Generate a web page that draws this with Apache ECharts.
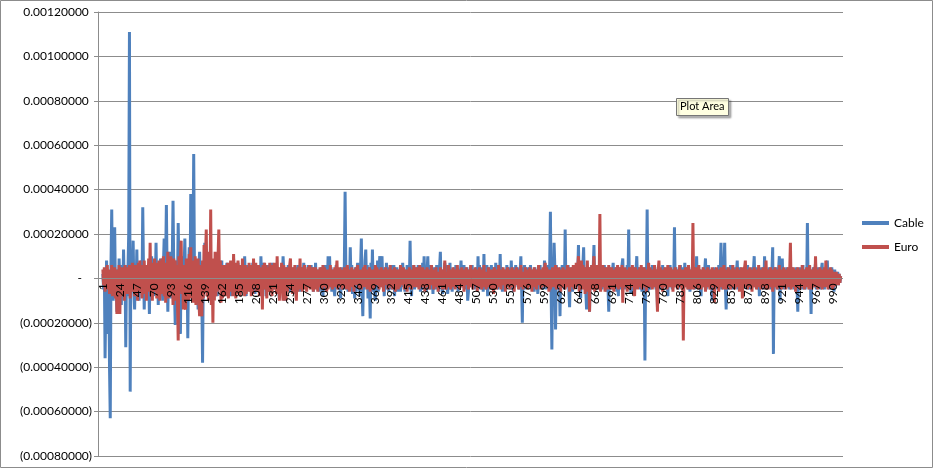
<!DOCTYPE html>
<html>
<head>
<meta charset="utf-8">
<script src="https://cdn.jsdelivr.net/npm/echarts@6/dist/echarts.min.js"></script>
<style>
  html, body { margin: 0; padding: 0; background: #fff; }
  #chart { width: 935px; height: 470px; }
</style>
</head>
<body>
<div id="chart"></div>
<script>
// values are in units of 0.00001 (one row = 25 points)
const cableValues = [
  2,-5,4,-36,-8,8,-12,-25,3,-40,-63,6,31,-4,-10,5,23,-6,2,-15,4,-7,9,-3,6,
  -12,3,-5,13,-4,6,-31,5,-8,4,20,111,-51,10,-6,3,17,-5,-14,6,-3,13,-7,4,-10,
  5,-4,8,-6,32,4,-14,3,-5,6,-3,-8,4,-16,5,-4,10,-6,3,-8,6,-2,16,-5,4,
  -12,5,-3,9,-6,4,-10,6,18,-4,7,33,2,-15,6,-4,12,-3,-9,8,35,4,-6,-21,5,
  8,-4,25,3,-8,-25,6,10,-5,-12,4,18,-3,-8,5,-27,3,14,-6,38,2,-10,8,56,4,
  -5,6,8,-4,-14,5,12,-3,4,-10,-38,3,-6,16,2,-4,-6,5,-3,9,-5,4,-12,3,-6,
  5,-3,7,-6,2,-8,4,6,-5,3,-4,8,-7,2,5,-3,-6,4,7,-2,-5,3,6,-8,4,
  2,-4,9,-3,5,-6,3,-2,7,-5,4,-7,2,6,-4,3,-5,10,-2,-8,5,-3,6,-4,3,
  -6,4,-2,7,-5,3,-7,5,-3,2,6,-4,3,-6,10,-2,4,-5,7,-3,2,-8,5,-4,6,
  -3,4,-6,3,7,-2,-5,4,-3,6,-4,2,5,-3,-9,4,-2,6,-5,10,3,-10,4,-3,5,
  -4,6,-3,2,-6,5,-2,4,-7,3,5,-4,2,-5,6,-3,4,-6,3,-2,5,-4,7,-3,2,
  -5,4,-2,6,-3,5,-4,6,-2,5,-6,3,-4,7,-3,2,-5,4,-6,3,-2,5,-4,-8,4,
  -3,6,-5,3,-2,10,-4,10,-3,5,-6,2,4,-5,-8,3,6,-4,2,-5,4,-3,-9,5,-2,
  3,-5,6,39,4,-5,3,-6,5,-4,14,-3,6,-7,4,-3,-9,5,-6,3,7,-4,6,-8,5,
  18,-6,-17,4,-5,8,13,-3,6,-9,5,-4,-18,7,-6,13,-4,6,-7,-10,5,-3,8,-6,4,
  10,-3,6,10,-4,5,-8,3,-5,7,-4,4,-6,5,-3,6,-5,3,-4,6,-8,4,-2,5,-6,
  4,-5,3,-6,5,-3,7,-4,2,-6,4,-3,6,-5,3,-2,17,-4,-8,5,-3,6,-5,4,-3,
  5,-4,6,-3,4,-6,3,-5,7,-2,10,-4,5,-6,3,10,-3,4,-5,6,-2,3,-7,5,-4,
  3,-5,6,-4,2,-6,5,12,-3,4,-7,3,-5,7,-4,6,-3,-7,5,-2,7,-5,3,-6,4,
  -3,5,-4,6,-2,4,-6,3,-5,2,8,-4,5,-3,6,-5,3,-4,5,-10,-6,4,-3,5,-4,
  6,-3,4,-5,3,-2,5,-4,10,-3,6,-5,4,-2,5,-6,11,-4,3,-5,6,-8,4,-3,5,
  -4,6,-3,5,-6,3,-4,7,-2,4,-5,6,-3,11,-4,5,-6,3,-2,-5,4,-3,6,-4,5,
  -3,4,-5,8,-2,5,-6,3,-4,6,-3,5,-2,4,-5,3,10,-4,-20,5,-3,6,-5,4,-2,
  5,-4,5,-3,6,-5,3,-2,4,-6,5,-3,4,-2,-7,5,-4,6,-3,4,-5,3,-2,8,4,
  -5,3,-4,6,-3,5,30,-6,-32,4,-3,16,5,-23,6,-4,3,-5,4,-17,5,-3,6,-4,3,
  -5,22,-4,5,-3,6,-5,-13,4,-3,5,-6,3,-4,6,-3,5,-4,2,15,-5,4,-9,5,-3,
  6,14,-4,5,-6,-14,4,-3,5,-15,3,-4,6,-3,5,15,-5,3,-4,6,-3,4,-5,5,-2,
  4,-5,3,-4,6,-3,5,-6,3,-4,-15,5,-3,4,-5,3,7,-4,5,-3,4,-6,3,-8,5,
  -3,4,-5,6,9,-4,3,-5,4,-3,6,-4,22,-5,3,-7,5,-4,3,-6,5,-3,4,10,-4,
  5,-3,4,-5,3,-6,4,-3,5,-37,4,-3,31,-6,5,-4,-5,3,-4,6,-3,5,-4,3,-5,
  4,-13,5,-3,4,-5,3,-4,6,-3,5,-4,3,-5,4,-8,5,-3,6,-4,3,-5,4,-3,23,
  -4,5,-3,4,-5,3,-4,6,-3,5,-4,3,-2,7,-4,5,-3,4,-5,3,-6,4,-3,5,-4,
  3,-5,4,-3,10,-4,5,-3,4,-5,-8,3,-4,5,-3,4,9,-5,3,-4,6,-3,4,-5,3,
  -10,4,-3,5,-4,3,-5,4,-3,6,-4,3,16,-5,4,-3,5,16,-4,-14,5,-3,4,-5,3,
  6,-4,3,-5,4,-3,5,-4,3,8,-5,4,-3,5,-4,3,-6,4,-3,5,-4,3,-5,6,-3,
  4,-5,3,-4,5,-3,4,10,-4,5,-3,4,-5,3,-8,4,-3,5,-4,3,-5,10,-3,4,-5,
  3,-4,5,-3,4,-5,3,14,-34,4,-3,5,-4,3,-5,4,10,-10,5,-3,9,-4,3,-5,4,
  -3,5,5,-4,3,-5,4,-3,5,-4,3,-5,4,-3,5,-4,-15,4,-3,5,-4,3,-5,6,-3,
  4,-5,3,-4,25,-3,4,-5,3,-16,4,-3,5,-4,3,7,-5,4,-3,5,-4,3,-5,4,7,
  -4,3,-5,4,-3,5,8,-4,3,-5,4,-3,5,-4,3,-6,4,-3,3,-2,3,-3,2,-2,1
];

const euroValues = [
  4,-3,5,-6,3,-4,6,-5,2,-7,4,-3,6,-8,3,-5,5,-9,2,-16,4,-10,6,-16,3,
  -8,5,-6,4,-10,6,-5,3,-7,5,-4,6,-9,4,-6,7,-5,3,-8,6,-4,5,-10,7,-5,
  8,-6,5,-9,6,-4,8,-7,5,-10,6,-5,9,-6,16,-8,5,-10,7,-6,9,-5,6,-9,7,
  -6,8,-10,6,-7,9,-5,10,-8,6,-11,7,-6,12,-9,5,-8,10,-7,6,-12,9,-6,8,-10,
  6,-9,-28,10,-6,8,17,-7,5,-14,6,-13,-14,9,-8,7,-10,11,-6,14,-9,7,-11,8,-6,
  10,-12,7,-8,9,-10,-17,6,-15,-17,8,-9,15,-6,10,22,-8,12,-10,9,-7,31,-12,5,-20,
  9,-10,12,-8,7,-6,10,22,-5,8,-11,6,-9,5,-7,6,-8,5,-6,7,-9,4,-5,8,-6,
  7,-8,11,-5,6,-9,7,-4,8,-7,5,-8,6,-6,9,-5,4,-8,6,-7,3,5,-6,7,-5,
  6,-8,5,-7,9,-4,3,7,-6,5,-4,6,-8,4,-6,5,-14,6,-5,7,-4,6,-9,5,-3,
  -6,7,-5,4,-8,6,-5,7,-4,5,-7,10,-6,4,-10,5,-6,7,-5,-10,6,-4,5,-10,4,
  -6,5,-4,6,9,-5,3,-7,5,-4,6,-5,-10,4,-6,5,-3,9,-5,4,-6,5,-4,6,-5,
  4,-6,3,5,-4,6,-5,3,-4,5,-6,4,-3,5,-5,4,-6,3,-4,5,-3,4,-5,6,-4,
  5,-3,4,-6,3,-5,4,-3,6,-4,3,-5,4,-3,5,-4,3,8,-5,4,-3,5,-4,3,-5,
  4,-3,5,-4,2,-5,6,-3,4,-6,3,-2,5,-4,3,-6,4,-2,5,-3,6,-4,2,-5,4,
  -5,3,-2,5,-4,6,-3,2,-5,4,-3,5,-6,3,-2,4,-5,3,-4,6,-3,5,-2,4,-5,
  3,-4,5,-3,2,-6,4,-3,5,-2,4,-5,3,-4,6,-3,2,-5,4,-3,5,-6,3,-2,4,
  -5,3,-4,6,-2,4,-3,5,-5,3,-2,4,-6,3,-4,5,-3,2,-5,4,-3,6,-4,3,-2,
  5,-4,3,-5,6,-3,2,-4,5,-3,4,-6,3,-2,5,-4,3,-5,4,-3,6,-2,3,-5,4,
  -3,5,-4,2,-6,3,-4,5,-3,4,-5,3,-2,8,-4,-5,3,-4,6,-2,4,-5,3,-3,5,
  -4,3,-5,4,-2,6,-3,4,-5,3,-2,5,-4,3,-6,4,-3,5,-2,3,-5,4,-3,6,-4,
  3,-5,4,-2,5,-3,4,-6,3,-4,5,-2,3,-5,4,-3,6,-4,2,-5,3,-4,5,-3,4,
  -5,3,-2,4,-7,5,-3,4,-5,3,-2,6,-4,3,-5,4,-3,5,-2,4,-6,3,-4,5,-3,
  4,-5,3,-2,5,-4,3,-6,4,-3,5,-2,3,-5,4,-3,6,-4,3,-5,2,-4,5,-3,4,
  -5,3,-4,5,-2,4,-6,3,-3,5,-4,3,-5,4,-2,6,-3,4,-5,3,-4,5,-3,4,7,
  -4,5,-3,4,-6,3,-5,4,-3,5,-4,3,-2,6,-5,3,-4,5,-3,4,-6,3,-4,5,-3,
  4,-5,3,-4,6,-3,5,-6,4,-3,5,-4,6,-5,3,-4,7,-3,5,10,-6,4,-5,8,-4,
  6,-5,4,-7,5,-4,8,-6,3,-15,5,-4,6,-5,4,10,-6,5,-4,6,-5,4,-3,29,-6,
  5,-4,6,-3,4,-6,5,-3,4,-5,6,-4,3,-5,5,-3,4,-6,3,-4,5,-3,6,-5,4,
  -3,5,-4,6,-11,4,-3,5,-4,3,-6,4,-3,5,-5,3,-4,6,-3,4,-8,5,-3,4,-5,
  3,-4,5,-3,6,-5,4,-3,5,-4,3,-6,4,-3,7,-4,5,-3,4,-5,3,-4,6,-3,4,
  -5,-15,4,8,-4,5,-3,4,-6,3,-4,5,-3,4,-5,6,-3,4,-4,5,-3,4,-6,3,-4,
  5,-3,4,-5,3,-4,6,-3,4,-5,3,-28,4,-3,5,-4,3,-5,6,-3,4,-5,3,-4,25,
  -5,4,-3,5,-4,3,-5,6,-3,4,-5,3,-4,5,-3,4,-6,3,-4,5,-3,4,-5,3,-4,
  5,-3,4,-11,3,-4,5,-3,4,-6,3,-4,5,-3,4,-5,6,-3,4,-5,3,-4,5,-3,4,
  -5,3,-4,6,-3,4,-5,3,-4,5,-3,4,-6,3,-4,5,-9,4,-3,5,8,-4,3,-5,4,
  -3,5,-4,3,-6,4,-3,5,-4,3,-5,4,-3,6,-4,3,-5,4,-3,5,-4,3,-5,8,-4,
  3,-5,4,-3,5,-4,3,-6,4,-3,5,-4,3,-5,4,-3,6,-4,3,-5,4,-3,5,-4,3,
  -5,4,-3,5,-4,3,16,-5,4,-3,5,-4,3,-6,4,-3,5,-4,3,-5,4,-3,6,-4,3,
  -5,4,-3,5,-4,3,-5,6,-3,4,-5,3,-4,5,-3,10,-4,3,-5,4,-3,5,-4,3,-5,
  4,-3,5,-4,8,-3,4,-5,3,-4,5,-3,4,-5,3,-4,2,-3,3,-2,2,-3,2,-2,1
];

// row numbers along the category axis
const categories = cableValues.map((_, i) => String(i + 1));

const cable = cableValues.map((v) => v / 100000);
const euro = euroValues.map((v) => v / 100000);

const yMin = -0.0008;
const yMax = 0.0012;
const yStep = 0.0002;

const fontFamily = 'Lato, "Liberation Sans", sans-serif';
const gridColor = '#8c8c8c';

const formatTick = (value) => {
  const r = Math.round(value * 100000) / 100000;
  if (r === 0) return '-{h|0)}';
  const s = Math.abs(r).toFixed(8);
  return r < 0 ? '(' + s + ')' : s + '{h|)}';
};

const myChart = echarts.init(document.getElementById('chart'));

const options = {
  animation: false,
  grid: [
    // frame with the value axis and gridlines
    { left: 98, right: 92, top: 12, bottom: 14, outerBoundsMode: 'none' },
    // the data area, points start a little in from the axis
    { left: 102.5, right: 94, top: 12, bottom: 14, outerBoundsMode: 'none' },
  ],
  legend: {
    orient: 'vertical',
    left: 862,
    top: 217,
    padding: 0,
    itemWidth: 27,
    itemHeight: 4,
    itemGap: 12,
    icon: 'rect',
    data: ['Cable', 'Euro'],
    textStyle: { color: '#000', fontSize: 12, fontFamily },
  },
  xAxis: [
    {
      gridIndex: 0,
      type: 'value',
      min: 0,
      max: 1,
      show: false,
    },
    {
      gridIndex: 1,
      type: 'category',
      data: categories,
      boundaryGap: true,
      position: 'bottom',
      offset: 0,
      z: 10,
      axisLine: { onZero: false, lineStyle: { color: gridColor } },
      axisTick: { show: false },
      axisLabel: {
        interval: 22,
        rotate: 90,
        margin: 5,
        color: '#000',
        fontSize: 12,
        fontFamily,
      },
      splitLine: { show: false },
    },
  ],
  yAxis: [
    {
      gridIndex: 0,
      type: 'value',
      min: yMin,
      max: yMax,
      interval: yStep,
      axisLine: { show: true, lineStyle: { color: gridColor } },
      axisTick: { show: true, length: 4, lineStyle: { color: gridColor } },
      axisLabel: {
        margin: 6,
        color: '#000',
        fontSize: 12,
        fontFamily,
        formatter: formatTick,
        rich: { h: { color: 'rgba(0,0,0,0)', fontSize: 12, fontFamily } },
      },
      splitLine: { show: true, lineStyle: { color: gridColor, width: 1 } },
    },
    {
      gridIndex: 1,
      type: 'value',
      min: yMin,
      max: yMax,
      interval: yStep,
      show: false,
    },
  ],
  series: [
    {
      name: 'Cable',
      type: 'line',
      xAxisIndex: 1,
      yAxisIndex: 1,
      data: cable,
      symbol: 'none',
      color: '#4f81bd',
      lineStyle: { width: 3 },
      emphasis: { disabled: true },
    },
    {
      name: 'Euro',
      type: 'line',
      xAxisIndex: 1,
      yAxisIndex: 1,
      data: euro,
      symbol: 'none',
      color: '#c0504d',
      lineStyle: { width: 3 },
      emphasis: { disabled: true },
    },
  ],
  graphic: [
    {
      type: 'rect',
      silent: true,
      shape: { x: 0.5, y: 0.5, width: 932, height: 467 },
      style: { fill: 'none', stroke: gridColor, lineWidth: 1 },
    },
    {
      type: 'rect',
      silent: true,
      z: 100,
      shape: { x: 676.5, y: 98.5, width: 52, height: 17 },
      style: {
        fill: '#ffffe1',
        stroke: '#767676',
        lineWidth: 1,
        shadowColor: 'rgba(0,0,0,0.3)',
        shadowOffsetX: 2,
        shadowOffsetY: 2,
        shadowBlur: 2,
      },
    },
    {
      type: 'text',
      silent: true,
      z: 101,
      x: 680,
      y: 101,
      style: { text: 'Plot Area', fill: '#000', font: '11px ' + fontFamily },
    },
  ],
};

myChart.setOption(options);

// move the category axis up so it crosses the value axis at zero
const zeroY = myChart.convertToPixel({ yAxisIndex: 1 }, 0);
const bottomY = myChart.convertToPixel({ yAxisIndex: 1 }, yMin);
myChart.setOption({
  xAxis: [{}, { offset: -(bottomY - zeroY) }],
});
</script>
</body>
</html>
